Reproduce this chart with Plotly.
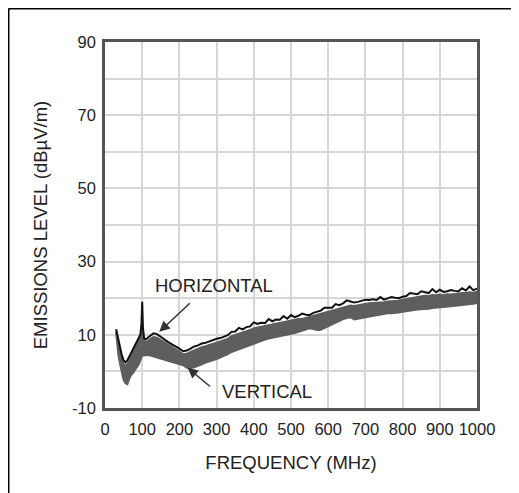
import plotly.graph_objects as go

# --- Data (emissions sweep, 30 MHz to 1 GHz) ---
freq_mhz = [30, 33, 36, 40, 45, 50, 55, 60, 65, 70, 75, 80, 85, 90, 95, 98, 100, 102, 105,
            110, 120, 130, 140, 150, 160, 170, 180, 190, 200,
            210, 220, 230, 240, 250, 260, 270, 280, 290, 300,
            310, 320, 330, 340, 350, 360, 370, 380, 390, 400,
            410, 420, 430, 440, 450, 460, 470, 480, 490, 500,
            510, 520, 530, 540, 550, 560, 570, 580, 590, 600,
            610, 620, 630, 640, 650, 660, 670, 680, 690, 700,
            710, 720, 730, 740, 750, 760, 770, 780, 790, 800,
            810, 820, 830, 840, 850, 860, 870, 880, 890, 900,
            910, 920, 930, 940, 950, 960, 970, 980, 990, 1000]

# horizontal polarization (black trace)
horizontal = [11.5, 10.0, 8.0, 6.5, 4.5, 3.0, 2.5, 3.0, 4.0, 5.0, 6.0, 7.0, 8.0, 9.0, 10.0, 13.0, 19.0, 12.0, 9.0,
              8.8, 9.6, 10.4, 10.2, 9.4, 8.8, 8.0, 7.4, 6.9, 6.2,
              5.5, 5.7, 6.2, 6.8, 7.1, 7.6, 7.8, 8.2, 8.5, 8.9,
              9.1, 9.6, 9.9, 10.8, 10.9, 11.9, 11.5, 12.1, 12.3, 13.4,
              13.0, 13.3, 13.2, 14.3, 13.7, 14.2, 14.1, 15.1, 14.4, 15.4,
              14.8, 15.2, 15.8, 15.5, 15.4, 16.0, 16.2, 16.6, 17.4, 17.3,
              17.4, 18.4, 18.1, 18.6, 19.4, 19.1, 18.8, 19.0, 19.2, 19.6,
              19.5, 19.7, 19.5, 20.3, 19.6, 19.9, 20.3, 20.1, 20.0, 20.4,
              20.6, 21.4, 21.3, 21.1, 21.9, 21.6, 21.4, 22.5, 21.6, 22.3,
              21.7, 21.9, 22.2, 22.0, 21.9, 22.7, 22.1, 23.2, 22.2, 22.6]

# vertical polarization (grey band): upper and lower envelope
vertical_hi = [11.0, 9.0, 7.0, 5.5, 3.5, 2.0, 1.5, 2.0, 3.0, 4.0, 5.0, 6.0, 7.0, 8.0, 9.0, 10.0, 12.0, 10.0, 8.5,
               8.0, 8.8, 9.4, 9.2, 8.6, 8.0, 7.3, 6.6, 6.0, 5.4,
               4.7, 4.8, 5.3, 5.8, 6.2, 6.6, 6.9, 7.2, 7.6, 7.9,
               8.2, 8.6, 8.9, 9.6, 9.9, 10.3, 10.6, 11.0, 11.3, 11.8,
               12.0, 12.3, 12.4, 12.8, 12.9, 13.2, 13.3, 13.6, 13.6, 13.9,
               14.0, 14.3, 14.3, 14.6, 14.7, 15.0, 15.3, 15.6, 16.0, 16.3,
               16.6, 17.0, 17.3, 17.6, 17.8, 18.0, 17.9, 18.1, 18.3, 18.3,
               18.6, 18.7, 18.7, 18.9, 18.9, 19.1, 19.1, 19.3, 19.3, 19.6,
               19.8, 20.0, 20.3, 20.3, 20.5, 20.7, 20.6, 20.9, 20.8, 21.0,
               20.9, 21.1, 21.0, 21.2, 21.2, 21.4, 21.4, 21.6, 21.5, 21.8]
vertical_lo = [10.5, 7.0, 4.5, 2.3, 0.0, -2.3, -3.2, -3.5, -2.0, -1.0, -0.5, 0.2, 1.0, 1.8, 3.0, 4.0, 4.5, 4.3, 4.4,
               4.5, 4.4, 4.1, 3.7, 3.4, 3.1, 2.9, 2.6, 2.3, 2.0,
               1.7, 1.0, 0.9, 1.1, 1.4, 1.9, 2.4, 2.6, 3.0, 3.4,
               3.8, 4.2, 4.7, 5.3, 5.7, 6.1, 6.5, 6.9, 7.2, 7.7,
               8.1, 8.3, 8.7, 9.0, 9.2, 9.3, 9.5, 9.7, 9.9, 10.1,
               10.5, 10.8, 11.1, 11.5, 11.8, 11.6, 11.3, 11.4, 11.9, 12.3,
               12.8, 13.3, 14.0, 14.3, 14.6, 14.8, 14.2, 14.3, 14.6, 14.8,
               15.0, 15.3, 15.5, 15.6, 15.8, 15.9, 15.9, 15.9, 16.1, 16.3,
               16.4, 16.6, 16.8, 16.9, 17.0, 17.0, 17.1, 17.3, 17.3, 17.5,
               17.6, 17.7, 17.8, 17.9, 18.0, 18.1, 18.2, 18.4, 18.5, 18.7]

x_ticks = [0, 100, 200, 300, 400, 500, 600, 700, 800, 900, 1000]
y_ticks = [-10, 0, 10, 20, 30, 40, 50, 60, 70, 80, 90]
y_tick_labels = ['-10', '', '10', '', '30', '', '50', '', '70', '', '90']

FONT = "Liberation Sans, Arial, sans-serif"
GREY = "#5e5e5e"

fig = go.Figure()

# grey band (vertical)
fig.add_trace(go.Scatter(x=freq_mhz, y=vertical_lo, mode="lines",
                         line=dict(color=GREY, width=2), showlegend=False, hoverinfo="skip"))
fig.add_trace(go.Scatter(x=freq_mhz, y=vertical_hi, mode="lines", fill="tonexty",
                         fillcolor=GREY, line=dict(color=GREY, width=2), showlegend=False, hoverinfo="skip"))
# black line (horizontal)
fig.add_trace(go.Scatter(x=freq_mhz, y=horizontal, mode="lines",
                         line=dict(color="#111111", width=2), showlegend=False))

# labels with arrows
fig.add_annotation(x=293, y=23.6, text="HORIZONTAL", showarrow=False,
                   font=dict(family=FONT, size=18.5, color="#222222"))
fig.add_annotation(x=146, y=10.8, ax=32, ay=-30, text="", showarrow=True,
                   arrowhead=2, arrowsize=1.4, arrowwidth=1.5, arrowcolor="#333333")
fig.add_annotation(x=435, y=-5.4, text="VERTICAL", showarrow=False,
                   font=dict(family=FONT, size=18.5, color="#222222"))
fig.add_annotation(x=222, y=1.0, ax=24, ay=20, text="", showarrow=True,
                   arrowhead=2, arrowsize=1.4, arrowwidth=1.5, arrowcolor="#333333")

# outer frame (left and top edges only, like the source image)
# page has an 8px body margin, so the figure's own origin sits at (8, 8) on screen
fig.add_shape(type="line", xref="paper", yref="paper", x0=-0.2594, x1=-0.2594, y0=1.0915, y1=-0.26,
              line=dict(color="black", width=2))
fig.add_shape(type="line", xref="paper", yref="paper", x0=-0.2594, x1=1.14, y0=1.0915, y1=1.0915,
              line=dict(color="black", width=2))

fig.update_xaxes(range=[0, 1000], tickvals=x_ticks, showgrid=True, gridcolor="#d6d6d6", gridwidth=1.5,
                 showline=True, linecolor="#555555", linewidth=2.5, mirror=True, ticks="",
                 zeroline=False, automargin=False, ticklabelstandoff=4,
                 tickfont=dict(family=FONT, size=16.5, color="#222222"),
                 title=dict(text="FREQUENCY (MHz)", font=dict(family=FONT, size=18.5, color="#222222"),
                            standoff=20))
fig.update_yaxes(range=[-10, 90], tickvals=y_ticks, ticktext=y_tick_labels, showgrid=True,
                 gridcolor="#d6d6d6", gridwidth=1.5, showline=True, linecolor="#555555",
                 linewidth=2.5, mirror=True, ticks="", zeroline=False, automargin=False,
                 ticklabelstandoff=3,
                 tickfont=dict(family=FONT, size=16.5, color="#222222"),
                 title=dict(text="EMISSIONS LEVEL (dBµV/m)", font=dict(family=FONT, size=18.5, color="#222222"),
                            standoff=20))

fig.update_layout(width=519, height=493, margin=dict(l=97, r=50, t=34, b=93),
                  paper_bgcolor="white", plot_bgcolor="white")

fig.write_html("out.html")
